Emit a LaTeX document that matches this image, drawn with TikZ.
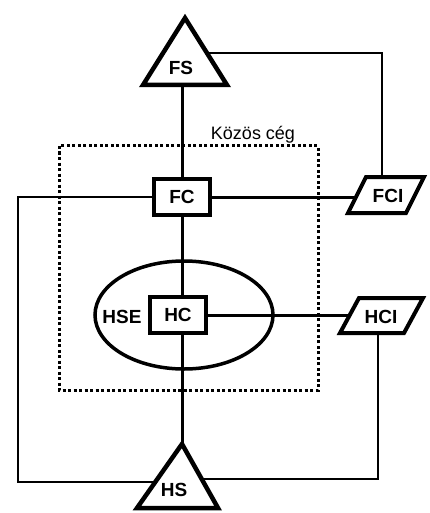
\documentclass[tikz,border=0pt]{standalone}
\usepackage{fontspec}
\setmainfont{Liberation Sans}
\usetikzlibrary{shapes.geometric}
\begin{document}
\begin{tikzpicture}[x=1pt,y=-1pt,
  boxnode/.style={draw, line width=4pt, minimum width=56pt, minimum height=36pt, inner sep=0pt, font=\fontsize{19}{21}\selectfont\bfseries},
  lbl/.style={inner sep=0pt, anchor=base, font=\fontsize{19}{21}\selectfont\bfseries},
  shapeline/.style={line width=4.5pt, line join=miter, fill=white},
  paraline/.style={line width=4pt, line join=miter, fill=white},
  thickconn/.style={line width=3pt},
  thinconn/.style={line width=2pt},
  ]
\useasboundingbox (0,0) rectangle (429,513);
% dotted frame
\draw[line width=3pt, dash pattern=on 3pt off 2.5pt] (59,146) rectangle (318,390);
\node[inner sep=0pt, anchor=base, font=\fontsize{18}{20}\selectfont] (kc) at (253,140) {Közös cég};
% ellipse
\node[ellipse, draw, line width=3.5pt, minimum width=178pt, minimum height=108pt, inner sep=0pt] (hse) at (184,315) {};
\node[lbl] (hsetxt) at (122,323) {HSE};
% boxes
\node[boxnode] (FC) at (182,197) {FC};
\node[boxnode] (HC) at (178,315) {HC};
% triangles
\draw[shapeline] (185,18) -- (227,85) -- (143,85) -- cycle;
\node[lbl] (FS) at (181,75) {FS};
\draw[shapeline] (182,444) -- (218,508) -- (137,508) -- cycle;
\node[lbl] (HS) at (174,496) {HS};
% parallelograms
\draw[paraline] (366,177) -- (424,177) -- (406,213) -- (348,213) -- cycle;
\node[lbl] (FCI) at (388,202) {FCI};
\draw[paraline] (359,298) -- (423,298) -- (404,333) -- (340,333) -- cycle;
\node[lbl] (HCI) at (381,323) {HCI};
% connection points
\coordinate (fsb) at (182,85);
\coordinate (fsr) at (207,53);
\coordinate (fcit) at (382,177);
\coordinate (fcil) at (356,197);
\coordinate (hcil) at (350,315);
\coordinate (hcib) at (378,333);
\coordinate (hsa) at (182,444);
\coordinate (hsl) at (155,482);
\coordinate (hsr) at (202,479);
% connectors
\draw[thickconn] (fsb) -- (FC.north |- fsb) -- (FC.north);
\draw[thinconn] (fsr) -- (fsr -| fcit) -- (fcit);
\draw[thickconn] (FC.east) -- (fcil);
\draw[thinconn] (FC.west) -- (18,197) -- (18,482) -- (hsl);
\draw[thickconn] (FC.south) -- (FC.south |- HC.north);
\draw[thickconn] (HC.east) -- (hcil);
\draw[thickconn] (FC.south |- HC.south) -- (hsa);
\draw[thinconn] (hcib) -- (hcib |- hsr) -- (hsr);
\end{tikzpicture}
\end{document}
